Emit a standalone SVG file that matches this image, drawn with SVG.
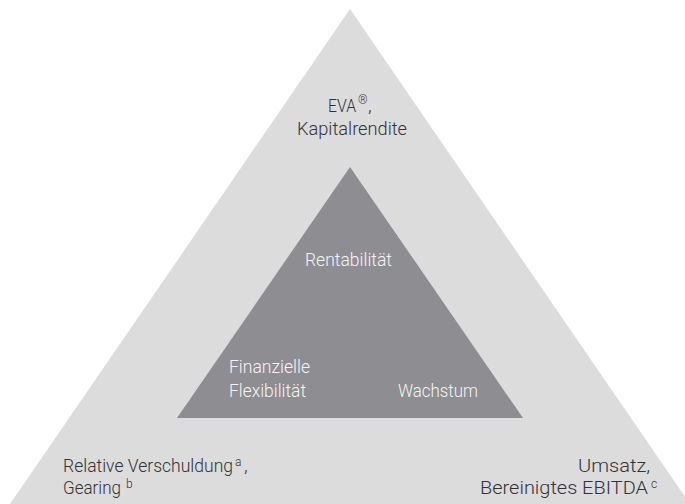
<svg xmlns="http://www.w3.org/2000/svg" width="685" height="504" viewBox="0 0 685 504">
<style>
.t{font-family:Roboto,"Liberation Sans",sans-serif;font-weight:300;font-size:19px}
.o{fill:#333333}
.i{fill:#f4f4f4}
.s{font-size:12px}
</style>
<rect width="685" height="504" fill="#ffffff"/>
<g id="outer">
<polygon points="350,9 10,504 690,504" fill="#dcdcdd"/>
<text class="t o" x="328" y="112" textLength="28" lengthAdjust="spacingAndGlyphs">EVA</text>
<text class="t o s" x="358" y="104">®</text>
<text class="t o" x="368" y="112">,</text>
<text class="t o" x="297" y="135" textLength="110" lengthAdjust="spacingAndGlyphs">Kapitalrendite</text>
<text class="t o" x="63" y="472" textLength="170" lengthAdjust="spacingAndGlyphs">Relative Verschuldung</text>
<text class="t o s" x="235" y="466">a</text>
<text class="t o" x="244" y="472">,</text>
<text class="t o" x="63" y="494" textLength="58" lengthAdjust="spacingAndGlyphs">Gearing</text>
<text class="t o s" x="126" y="488">b</text>
<text class="t o" x="578" y="472" textLength="72" lengthAdjust="spacingAndGlyphs">Umsatz,</text>
<text class="t o" x="480" y="494" textLength="168" lengthAdjust="spacingAndGlyphs">Bereinigtes EBITDA</text>
<text class="t o s" x="651" y="488">c</text>
</g>
<g id="inner">
<polygon points="350,167 177,418 523,418" fill="#8e8d92"/>
<text class="t i" x="305" y="266" textLength="87" lengthAdjust="spacingAndGlyphs">Rentabilität</text>
<text class="t i" x="229" y="373" textLength="81" lengthAdjust="spacingAndGlyphs">Finanzielle</text>
<text class="t i" x="229" y="397" textLength="77" lengthAdjust="spacingAndGlyphs">Flexibilität</text>
<text class="t i" x="398" y="397" textLength="80" lengthAdjust="spacingAndGlyphs">Wachstum</text>
</g>
<g id="connectors"/>
</svg>
